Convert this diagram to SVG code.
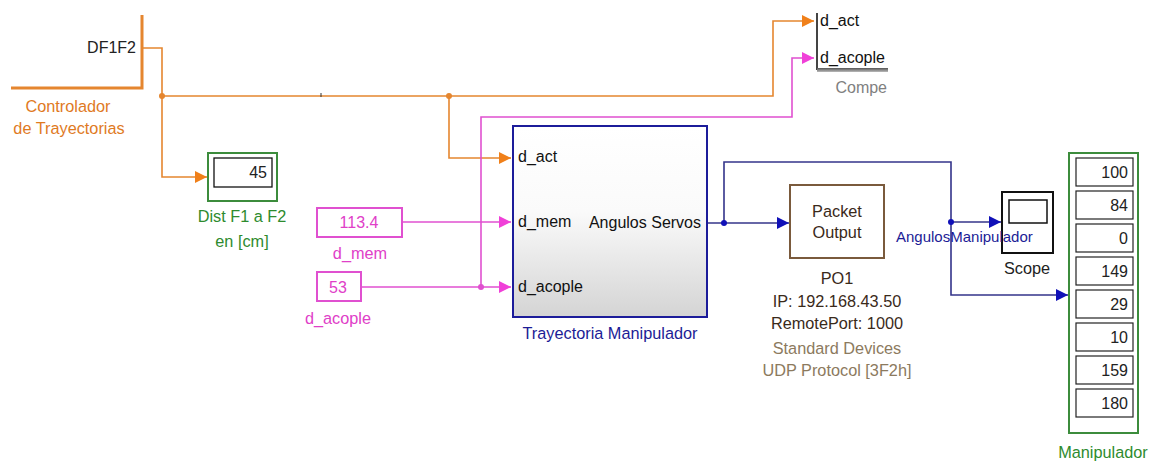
<svg xmlns="http://www.w3.org/2000/svg" width="1153" height="463" viewBox="0 0 1153 463">
<style>
text{font-family:"Liberation Sans",Arial,sans-serif;font-size:16px}
.lbl{font-size:16.3px}
.c{text-anchor:middle}
.e{text-anchor:end}
.or{fill:#e07a1f}
.pk{fill:#e040c8}
.gr{fill:#2e8b2e}
.bl{fill:#1c1c96}
.br{fill:#3a2a1a}
.lbr{fill:#8c7a5e}
.orl{fill:none;stroke:#e5862f;stroke-width:1.6}
.pkl{fill:none;stroke:#e050d0;stroke-width:1.6}
.bll{fill:none;stroke:#34348a;stroke-width:1.6}
.cell{fill:#fff;stroke:#222;stroke-width:1.2}
</style>
<defs>
<marker id="aO" markerUnits="userSpaceOnUse" markerWidth="14" markerHeight="14" refX="12" refY="7" orient="auto"><path d="M0,1 L12,7 L0,13 Z" fill="#f0801a"/></marker>
<marker id="aP" markerUnits="userSpaceOnUse" markerWidth="14" markerHeight="14" refX="12" refY="7" orient="auto"><path d="M0,1 L12,7 L0,13 Z" fill="#f040d8"/></marker>
<marker id="aB" markerUnits="userSpaceOnUse" markerWidth="14" markerHeight="14" refX="12" refY="7" orient="auto"><path d="M0,1 L12,7 L0,13 Z" fill="#1010b8"/></marker>
<linearGradient id="gT" x1="0" y1="0" x2="0" y2="1"><stop offset="0" stop-color="#ffffff"/><stop offset="0.45" stop-color="#fafafa"/><stop offset="1" stop-color="#d4d4d4"/></linearGradient>
<linearGradient id="gC" x1="0" y1="0" x2="0" y2="1"><stop offset="0" stop-color="#555"/><stop offset="1" stop-color="#bbb"/></linearGradient>
</defs>

<g id="connectors">
<path class="orl" d="M143,48 H162 V96 H773 V21 H814" marker-end="url(#aO)"/>
<path class="orl" d="M162,96 V177 H207" marker-end="url(#aO)"/>
<path class="orl" d="M449,96 V158 H511" marker-end="url(#aO)"/>
<circle cx="162" cy="96" r="3" fill="#e5862f"/>
<circle cx="449" cy="96" r="3" fill="#e5862f"/>
<path d="M321,93 V97" stroke="#333" stroke-width="1"/>
<path class="pkl" d="M402,222 H511" marker-end="url(#aP)"/>
<path class="pkl" d="M361,287 H511" marker-end="url(#aP)"/>
<path class="pkl" d="M481,287 V117 H792 V58 H814" marker-end="url(#aP)"/>
<circle cx="481" cy="287" r="3" fill="#e050d0"/>
<path class="bll" d="M707,223 H789" marker-end="url(#aB)"/>
<path class="bll" d="M724,223 V162 H951 V295 H1068" marker-end="url(#aB)"/>
<path class="bll" d="M951,222 H1001" marker-end="url(#aB)"/>
<circle cx="724" cy="223" r="3" fill="#1010b8"/>
<circle cx="951" cy="222" r="3" fill="#1010b8"/>
</g>

<g id="controlador">
<path d="M142,15 V88 H11" fill="none" stroke="#e5862f" stroke-width="3"/>
<text x="136" y="53" class="e" fill="#222">DF1F2</text>
<text x="68" y="112" class="c or lbl">Controlador</text>
<text x="69" y="134" class="c or lbl">de Trayectorias</text>
</g>

<g id="compe">
<path d="M817,13 V70" stroke="#444" stroke-width="2"/>
<rect x="817" y="68" width="71" height="4" fill="url(#gC)"/>
<text x="820" y="26" fill="#111">d_act</text>
<text x="820" y="63" fill="#111">d_acople</text>
<text x="887" y="93" class="e" fill="#808080">Compe</text>
</g>

<g id="dist">
<rect x="208" y="153" width="69" height="48" fill="#fff" stroke="#3c8c3c" stroke-width="2"/>
<rect x="214" y="158" width="58" height="29" fill="#fff" stroke="#111" stroke-width="1.3"/>
<text x="267" y="178" class="e" fill="#222">45</text>
<text x="242" y="222" class="c gr lbl">Dist F1 a F2</text>
<text x="242" y="247" class="c gr lbl">en [cm]</text>
</g>

<g id="dmem">
<rect x="317" y="208" width="85" height="29" fill="#fff" stroke="#e050d0" stroke-width="2"/>
<text x="359" y="228" class="c pk">113.4</text>
<text x="360" y="259" class="c pk lbl">d_mem</text>
</g>

<g id="dacople">
<rect x="317" y="272" width="44" height="29" fill="#fff" stroke="#e050d0" stroke-width="2"/>
<text x="338" y="293" class="c pk">53</text>
<text x="338" y="324" class="c pk lbl">d_acople</text>
</g>

<g id="trayectoria">
<rect x="513" y="126" width="194" height="191" fill="url(#gT)" stroke="#1c1c9a" stroke-width="2"/>
<text x="518" y="162" fill="#111">d_act</text>
<text x="518" y="227" fill="#111">d_mem</text>
<text x="518" y="292" fill="#111">d_acople</text>
<text x="701" y="228" class="e" fill="#111">Angulos Servos</text>
<text x="610" y="339" class="c bl lbl">Trayectoria Manipulador</text>
</g>

<g id="packet">
<rect x="790" y="185" width="94" height="73" fill="#fff" stroke="#7a5a3c" stroke-width="2"/>
<text x="837" y="217" class="c lbl br">Packet</text>
<text x="837" y="238" class="c lbl br">Output</text>
<text x="837" y="284" class="c lbl br">PO1</text>
<text x="837" y="307" class="c lbl br">IP: 192.168.43.50</text>
<text x="837" y="329" class="c lbl br">RemotePort: 1000</text>
<text x="837" y="354" class="c lbl lbr">Standard Devices</text>
<text x="837" y="376" class="c lbl lbr">UDP Protocol [3F2h]</text>
</g>

<g id="scope">
<rect x="1002" y="192" width="51" height="61" fill="#fff" stroke="#111" stroke-width="2"/>
<rect x="1009" y="200" width="38" height="23" fill="#fff" stroke="#111" stroke-width="1.5"/>
<text x="1027" y="274" class="c lbl" fill="#222">Scope</text>
</g>

<text id="signal-label" x="896" y="242" class="bl" style="font-size:15px">AngulosManipulador</text>

<g id="manipulador">
<rect x="1069" y="153" width="69" height="280" fill="#fff" stroke="#3c8c3c" stroke-width="2"/>
<rect class="cell" x="1076" y="158" width="57" height="28"/>
<rect class="cell" x="1076" y="191" width="57" height="28"/>
<rect class="cell" x="1076" y="224" width="57" height="28"/>
<rect class="cell" x="1076" y="257" width="57" height="28"/>
<rect class="cell" x="1076" y="290" width="57" height="28"/>
<rect class="cell" x="1076" y="323" width="57" height="28"/>
<rect class="cell" x="1076" y="356" width="57" height="28"/>
<rect class="cell" x="1076" y="389" width="57" height="28"/>
<g fill="#222">
<text x="1128" y="178" class="e">100</text>
<text x="1128" y="211" class="e">84</text>
<text x="1128" y="244" class="e">0</text>
<text x="1128" y="277" class="e">149</text>
<text x="1128" y="310" class="e">29</text>
<text x="1128" y="343" class="e">10</text>
<text x="1128" y="376" class="e">159</text>
<text x="1128" y="409" class="e">180</text>
</g>
<text x="1103" y="458" class="c gr lbl">Manipulador</text>
</g>
</svg>
